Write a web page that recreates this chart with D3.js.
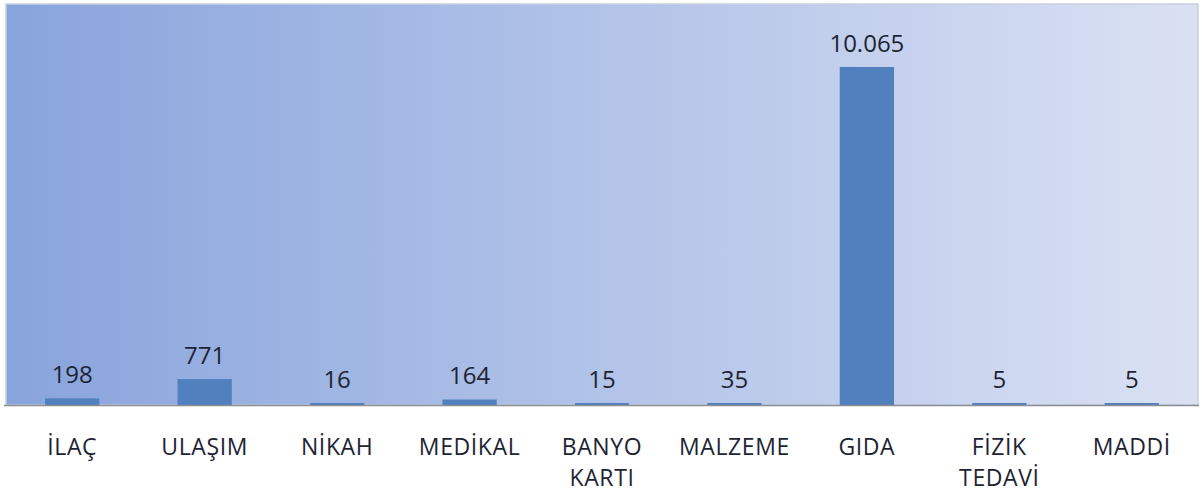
<!DOCTYPE html>
<html>
<head>
<meta charset="utf-8">
<script src="https://cdn.jsdelivr.net/npm/d3@7"></script>
<style>
  body { margin: 0; background: #fff; }
  text { font-family: "Open Sans", sans-serif; }
</style>
</head>
<body>
<script>
var categories = ["İLAÇ", "ULAŞIM", "NİKAH", "MEDİKAL", "BANYO KARTI", "MALZEME", "GIDA", "FİZİK TEDAVİ", "MADDİ"];
var labelLines = [["İLAÇ"], ["ULAŞIM"], ["NİKAH"], ["MEDİKAL"], ["BANYO", "KARTI"], ["MALZEME"], ["GIDA"], ["FİZİK", "TEDAVİ"], ["MADDİ"]];
var values = [198, 771, 16, 164, 15, 35, 10065, 5, 5];
var valueLabels = ["198", "771", "16", "164", "15", "35", "10.065", "5", "5"];

var width = 1202, height = 493;
var plotLeft = 6, plotRight = 1198, plotTop = 4, base = 405;

var svg = d3.select("body")
            .append("svg")
               .attr("width", width)
               .attr("height", height);

// background gradient of the plot area
var grad = svg.append("defs").append("linearGradient")
   .attr("id", "bg")
   .attr("x1", "0%").attr("x2", "100%")
   .attr("y1", "0%").attr("y2", "0%");
grad.append("stop").attr("offset", "0%").attr("stop-color", "#88a4dc");
grad.append("stop").attr("offset", "50%").attr("stop-color", "#b2c3e8");
grad.append("stop").attr("offset", "100%").attr("stop-color", "#dae1f3");

svg.append("rect")
   .attr("x", plotLeft)
   .attr("y", plotTop)
   .attr("width", plotRight - plotLeft)
   .attr("height", base - plotTop)
   .attr("fill", "url(#bg)")
   .attr("stroke", "#c8d0e0")
   .attr("stroke-width", 1.5);

var x = d3.scaleBand()
         .domain(categories)
         .range([plotLeft, plotRight])
         .paddingInner(0.59)
         .paddingOuter(0.295);

// 10065 -> ~338px tall
var y = d3.scaleLinear()
         .domain([0, 12000])
         .range([base, base - 403]);

svg.selectAll(".bar")
   .data(values)
   .enter().append("rect")
      .attr("class", "bar")
      .attr("x", function(d, i) { return x(categories[i]); })
      .attr("width", x.bandwidth())
      .attr("y", function(d) { return Math.min(y(d), base - 2); })
      .attr("height", function(d) { return Math.max(base - y(d), 2); })
      .style("fill", "#5081be");

// baseline
svg.append("line")
   .attr("x1", 4).attr("x2", 1199)
   .attr("y1", base + 0.5).attr("y2", base + 0.5)
   .attr("stroke", "#8a8d93")
   .attr("stroke-width", 1.5);

// value labels
svg.selectAll(".val")
   .data(values)
   .enter().append("text")
      .attr("class", "val")
      .attr("x", function(d, i) { return x(categories[i]) + x.bandwidth() / 2; })
      .attr("y", function(d) { return Math.min(y(d), base - 2) - 15; })
      .attr("text-anchor", "middle")
      .attr("font-size", 24)
      .attr("fill", "#1d2433")
      .text(function(d, i) { return valueLabels[i]; });

// category labels
var cat = svg.selectAll(".cat")
   .data(labelLines)
   .enter().append("text")
      .attr("class", "cat")
      .attr("text-anchor", "middle")
      .attr("font-size", 23)
      .attr("letter-spacing", 0.6)
      .attr("fill", "#1d2433");

cat.selectAll("tspan")
   .data(function(d, i) { return d.map(function(s) { return { s: s, i: i }; }); })
   .enter().append("tspan")
      .attr("x", function(d) { return x(categories[d.i]) + x.bandwidth() / 2; })
      .attr("y", function(d, j) { return 455 + j * 31; })
      .text(function(d) { return d.s; });
</script>
</body>
</html>
